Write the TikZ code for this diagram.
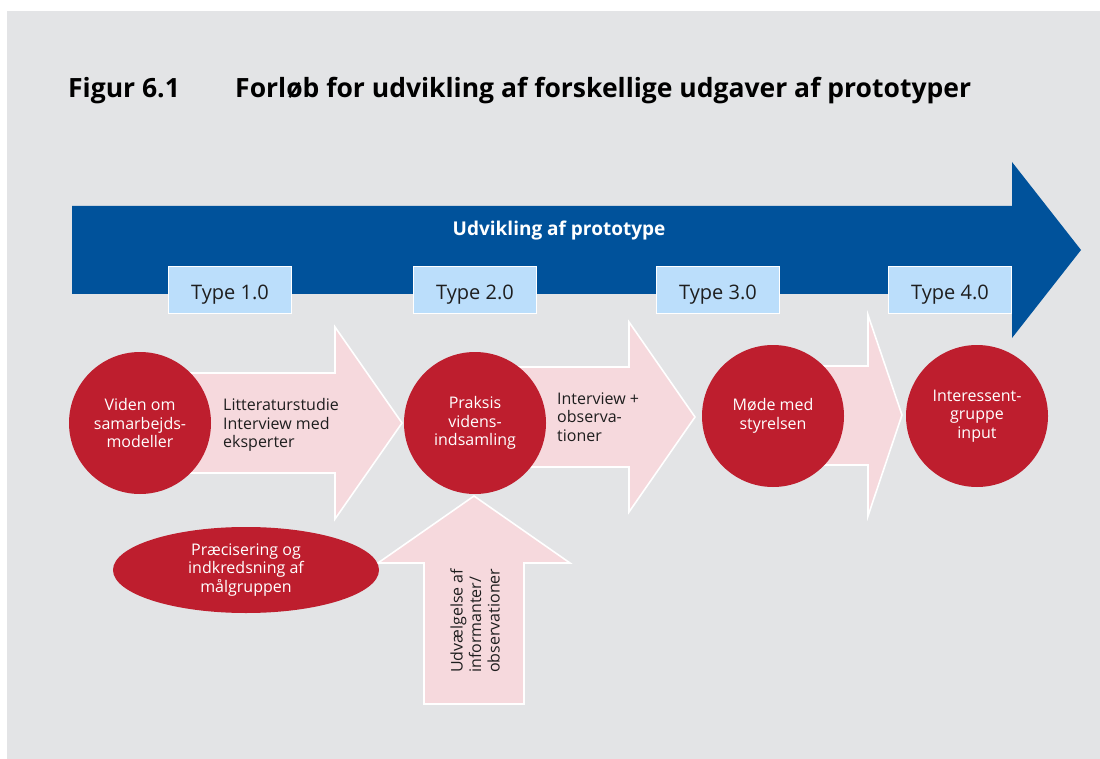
\documentclass[tikz,border=0pt]{standalone}
\usepackage{fontspec}
\setmainfont{Open Sans}
\usepackage{tikz}
\usetikzlibrary{shapes.geometric}

\definecolor{bggray}{RGB}{227,228,230}
\definecolor{dstblue}{RGB}{0,82,155}
\definecolor{dstred}{RGB}{190,30,46}
\definecolor{dstpink}{RGB}{246,217,221}
\definecolor{typeblue}{RGB}{187,222,251}
\definecolor{txtgray}{RGB}{30,30,30}

\tikzset{
  pil/.style={fill=dstpink,draw=white,line width=1.6pt,line join=miter},
  cirk/.style={circle,fill=dstred,text=white,inner sep=0pt,minimum size=142pt,align=center,font=\fontsize{16}{18.5}\selectfont},
  typebox/.style={rectangle,fill=typeblue,draw=white,line width=1.2pt,minimum width=123pt,minimum height=47pt,inner sep=0pt,text height=20pt,text depth=0pt,text=txtgray,font=\fontsize{20}{24}\selectfont},
  pilnote/.style={align=left,inner sep=0pt,text=txtgray,font=\fontsize{16}{18.5}\selectfont}
}

\begin{document}
\begin{tikzpicture}[x=1pt,y=-1pt]
\useasboundingbox (0,0) rectangle (1100,759);
%baggrund
\fill[bggray] (7,11) rectangle (1100,759);
%titel
\node[anchor=base west,inner sep=0pt,font=\bfseries\fontsize{26.5}{30}\selectfont] (fig) at (68,98) {Figur 6.1};
\node[anchor=base west,inner sep=0pt,font=\bfseries\fontsize{26.5}{30}\selectfont] (titel) at (235,98) {Forløb for udvikling af forskellige udgaver af prototyper};
%blaa pil
\fill[dstblue] (72,206) -- (1012,206) -- (1012,162) -- (1081,250) -- (1012,338) -- (1012,294) -- (72,294) -- cycle;
\node[text=white,font=\bfseries\fontsize{19}{22}\selectfont] (udv) at (559,231) {Udvikling af prototype};
%type-kasser
\node[typebox] (t1) at (230,290) {Type 1.0};
\node[typebox] (t2) at (475,290) {Type 2.0};
\node[typebox] (t3) at (718,290) {Type 3.0};
\node[typebox] (t4) at (950,290) {Type 4.0};
%lyse pile
\draw[pil] (190,373) -- (335,373) -- (335,327) -- (402,423) -- (335,519) -- (335,473) -- (190,473) -- cycle;
\draw[pil] (500,367) -- (629,367) -- (629,322) -- (695,417) -- (629,512) -- (629,467) -- (500,467) -- cycle;
\draw[pil] (800,366) -- (868,366) -- (868,315) -- (902,415) -- (868,516) -- (868,465) -- (800,465) -- cycle;
\draw[pil] (474,496) -- (570,563) -- (524,563) -- (524,704) -- (424,704) -- (424,563) -- (378,563) -- cycle;
%cirkler
\node[cirk] (c1) at (140,423) {Viden om\\samarbejds-\\modeller};
\node[cirk] (c2) at (475,423) {Praksis\\videns-\\indsamling};
\node[cirk] (c3) at (773,416) {Møde med\\styrelsen};
\node[cirk] (c4) at (977,416) {Interessent-\\gruppe\\input};
\node[ellipse,fill=dstred,text=white,inner sep=0pt,minimum width=266pt,minimum height=86pt,align=center,font=\fontsize{16}{18.5}\selectfont] (mg) at (246,570) {Præcisering og\\indkredsning af\\målgruppen};
%Text
\node[pilnote,anchor=west] (n1) at (223,425) {Litteraturstudie\\Interview med\\eksperter};
\node[pilnote,anchor=west] (n2) at (557,417) {Interview +\\observa-\\tioner};
\node[pilnote,anchor=west,rotate=90] (n3) at (475,673) {Udvælgelse af\\informanter/\\observationer};
\end{tikzpicture}
\end{document}
